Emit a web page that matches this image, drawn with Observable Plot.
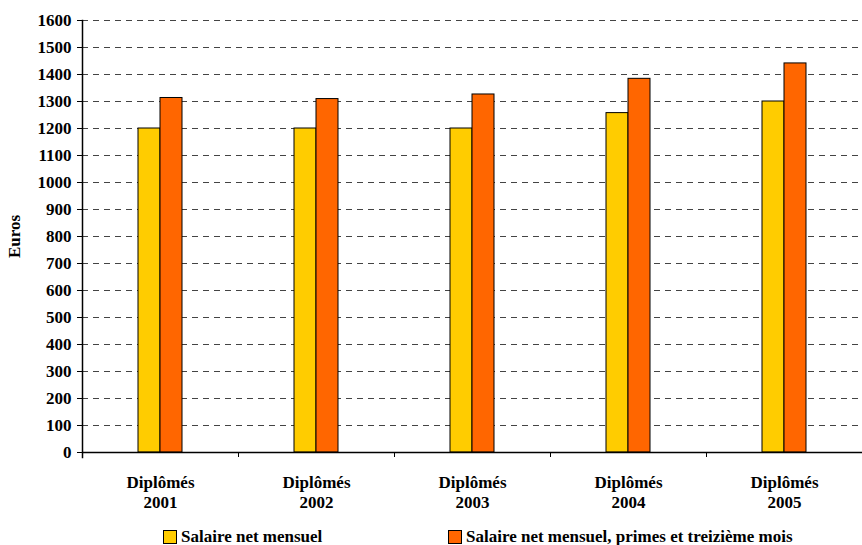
<!DOCTYPE html>
<html>
<head>
<meta charset="utf-8">
<script src="https://cdn.jsdelivr.net/npm/d3@7"></script>
<script src="https://cdn.jsdelivr.net/npm/@observablehq/plot@0.6"></script>
<style>
  body { margin: 0; background: #fff; font-family: "Liberation Serif", "Times New Roman", serif; }
  #legend { display: flex; height: 20px; align-items: center; font-weight: bold; font-size: 17px; color: #000; }
  .item { display: flex; align-items: center; }
  .sw { width: 12px; height: 12px; border: 1px solid #000; margin-right: 4px; }
</style>
</head>
<body>
<div id="chart"></div>
<script>
const years = ["2001", "2002", "2003", "2004", "2005"];
const seriesNames = ["Salaire net mensuel", "Salaire net mensuel, primes et treizième mois"];
const salaireNet = [1200, 1200, 1200, 1257, 1300];
const salairePrimes = [1313, 1309, 1326, 1384, 1441];
const colors = ["#FFCC00", "#FF6600"];
const yTicks = d3.range(0, 1601, 100);

const W = 862, H = 525, mL = 82, mR = 0, mT = 20, mB = 73;
const bw = (W - mL - mR) / years.length;
const barW = 22;

const dataNet = years.map((y, i) => ({year: y, value: salaireNet[i]}));
const dataPrimes = years.map((y, i) => ({year: y, value: salairePrimes[i]}));

const plot = Plot.plot({
  width: W, height: H,
  marginLeft: mL, marginRight: mR, marginTop: mT, marginBottom: mB,
  style: {fontFamily: "'Liberation Serif', serif", fontWeight: "bold", fontSize: "17px", color: "#000", background: "#fff"},
  x: {domain: years, padding: 0, axis: null},
  y: {domain: [0, 1600], ticks: yTicks, axis: null},
  marks: [
    Plot.gridY(yTicks.filter(d => d > 0), {stroke: "#444", strokeOpacity: 1, strokeDasharray: "6,5"}),
    Plot.barY(dataNet, {x: "year", y: "value", fill: colors[0], stroke: "#000", strokeWidth: 1,
      insetLeft: bw / 2 - barW, insetRight: bw / 2}),
    Plot.barY(dataPrimes, {x: "year", y: "value", fill: colors[1], stroke: "#000", strokeWidth: 1,
      insetLeft: bw / 2, insetRight: bw / 2 - barW}),
    Plot.ruleY([0], {stroke: "#000", strokeWidth: 1.5}),
    Plot.ruleX(years.slice(1), {x: d => d, dx: -bw / 2, y1: 0, y2: 0, insetBottom: -5, stroke: "#000"}),
    Plot.axisY(yTicks, {tickSize: 5, tickPadding: 6, stroke: "#000", fontSize: 17, fontWeight: "bold",
      tickFormat: d => String(d),
      label: "Euros", labelAnchor: "center", labelOffset: 75, labelArrow: "none"}),
    Plot.axisX(years, {tickSize: 0, tickPadding: 22, fontSize: 17, fontWeight: "bold", label: null,
      tickFormat: d => "Diplômés\n" + d, lineHeight: 1.15}),
    Plot.frame({anchor: "left", stroke: "#000", strokeWidth: 1.5, insetBottom: -5})
  ]
});
document.getElementById("chart").appendChild(plot);

const legend = document.createElement("div");
legend.id = "legend";
legend.style.paddingLeft = "163px";
legend.style.marginTop = "2px";
seriesNames.forEach((name, i) => {
  const item = document.createElement("div");
  item.className = "item";
  if (i === 0) item.style.width = "285px";
  const sw = document.createElement("div");
  sw.className = "sw";
  sw.style.background = colors[i];
  const t = document.createElement("span");
  t.textContent = name;
  item.appendChild(sw);
  item.appendChild(t);
  legend.appendChild(item);
});
document.getElementById("chart").appendChild(legend);
</script>
</body>
</html>
